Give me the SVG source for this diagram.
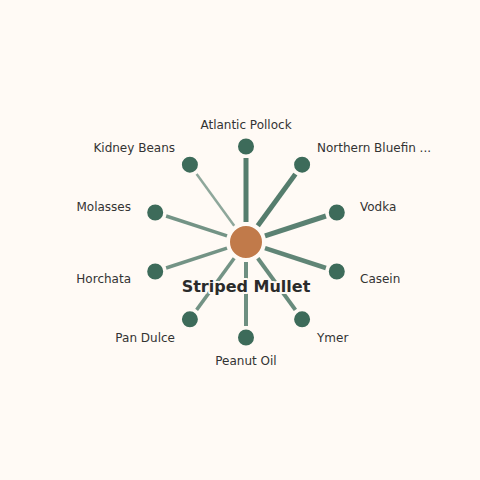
<svg xmlns="http://www.w3.org/2000/svg" width="480" height="480" viewBox="0 0 480 480">
<style>
.lbl{font-family:"DejaVu Sans",sans-serif;font-size:12px;fill:#333333}
.node{fill:#3d6b5a;stroke:#fffaf5;stroke-width:2}
.edge{stroke:#3d6b5a;fill:none}
.title{font-family:"DejaVu Sans",sans-serif;font-size:16px;font-weight:bold;fill:#2b2b2b;stroke:#fffaf5;stroke-width:4;paint-order:stroke;stroke-linejoin:round}
</style>
<rect width="480" height="480" fill="#fffaf5"/>
<g id="connectors">
<line class="edge" x1="246" y1="222" x2="246" y2="158" stroke-width="5" stroke-opacity="0.88"/>
<line class="edge" x1="257.8" y1="225.8" x2="295.4" y2="174.1" stroke-width="5" stroke-opacity="0.88"/>
<line class="edge" x1="265" y1="235.8" x2="325.9" y2="216" stroke-width="5" stroke-opacity="0.85"/>
<line class="edge" x1="265" y1="248.2" x2="325.9" y2="268" stroke-width="4.5" stroke-opacity="0.82"/>
<line class="edge" x1="257.8" y1="258.2" x2="295.4" y2="309.9" stroke-width="4" stroke-opacity="0.78"/>
<line class="edge" x1="246" y1="262" x2="246" y2="326" stroke-width="4" stroke-opacity="0.75"/>
<line class="edge" x1="234.2" y1="258.2" x2="196.6" y2="309.9" stroke-width="3.5" stroke-opacity="0.72"/>
<line class="edge" x1="227" y1="248.2" x2="166.1" y2="268" stroke-width="3.5" stroke-opacity="0.72"/>
<line class="edge" x1="227" y1="235.8" x2="166.1" y2="216" stroke-width="3.5" stroke-opacity="0.72"/>
<line class="edge" x1="234.2" y1="225.8" x2="196.6" y2="174.1" stroke-width="2.5" stroke-opacity="0.58"/>
</g>
<g id="n-atlantic-pollock"><circle class="node" cx="246" cy="146.5" r="9"/><text class="lbl" x="246" y="129" text-anchor="middle">Atlantic Pollock</text></g>
<g id="n-northern-bluefin"><circle class="node" cx="302.1" cy="164.7" r="9"/><text class="lbl" x="317" y="152">Northern Bluefin ...</text></g>
<g id="n-vodka"><circle class="node" cx="336.8" cy="212.5" r="9"/><text class="lbl" x="360" y="211">Vodka</text></g>
<g id="n-casein"><circle class="node" cx="336.8" cy="271.5" r="9"/><text class="lbl" x="360" y="283">Casein</text></g>
<g id="n-ymer"><circle class="node" cx="302.1" cy="319.3" r="9"/><text class="lbl" x="317" y="342">Ymer</text></g>
<g id="n-peanut-oil"><circle class="node" cx="246" cy="337.5" r="9"/><text class="lbl" x="246" y="365" text-anchor="middle">Peanut Oil</text></g>
<g id="n-pan-dulce"><circle class="node" cx="189.9" cy="319.3" r="9"/><text class="lbl" x="175" y="342" text-anchor="end">Pan Dulce</text></g>
<g id="n-horchata"><circle class="node" cx="155.2" cy="271.5" r="9"/><text class="lbl" x="131" y="283" text-anchor="end">Horchata</text></g>
<g id="n-molasses"><circle class="node" cx="155.2" cy="212.5" r="9"/><text class="lbl" x="131" y="211" text-anchor="end">Molasses</text></g>
<g id="n-kidney-beans"><circle class="node" cx="189.9" cy="164.7" r="9"/><text class="lbl" x="175" y="152" text-anchor="end">Kidney Beans</text></g>
<g id="n-striped-mullet"><circle cx="246" cy="242" r="17" fill="#c17a4a" stroke="#fffaf5" stroke-width="2"/><text class="title" x="246" y="291.5" text-anchor="middle">Striped Mullet</text></g>
</svg>
